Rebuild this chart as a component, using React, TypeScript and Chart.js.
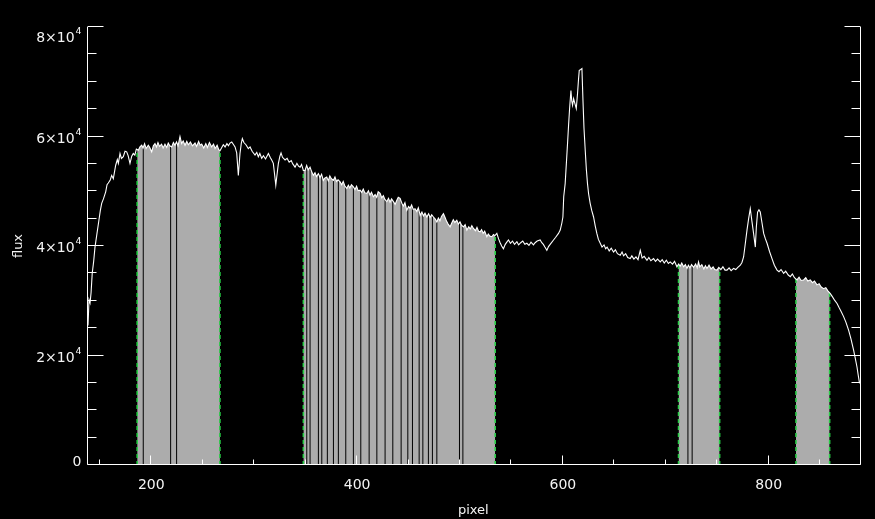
import React, { useEffect, useRef } from 'react';
import { Chart, registerables } from 'chart.js';

Chart.register(...registerables);

// ---------- data ----------
const PIXEL = [
  138.5, 139.5, 140.5, 141.5, 142.6, 144, 145.3, 147, 149.1, 150.5, 151.8, 153.5, 155.7, 157, 158.2, 160,
  161.5, 163.1, 165.4, 167, 168, 169.6, 171, 172.8, 174.5, 176.1, 177.5, 179.3, 181, 182.5, 184, 185.5,
  187.4, 189, 190.7, 192, 193.5, 195, 197.1, 198.5, 200.4, 202, 203.6, 205, 206.5, 208, 210, 211.5,
  213.3, 215, 216.5, 218, 219.8, 221.5, 223, 224.5, 226, 227.9, 229.5, 231, 232.8, 234.5, 236, 238,
  240, 242.5, 244, 246, 247.5, 249, 251, 253, 254.5, 256.5, 258.7, 260.5, 262, 264, 265.5, 266.8,
  268.5, 270, 271.7, 273.5, 275, 276.5, 278.2, 280, 281.4, 283, 284.6, 286.2, 287.5, 288.5, 290, 292,
  294.3, 296, 298, 300.8, 302.5, 304, 305.5, 307.3, 309, 311, 313.8, 315.5, 317, 318.6, 320, 321,
  322.3, 323.5, 325, 326.1, 327.5, 329, 330, 332, 334, 336, 337.5, 339.7, 341.5, 343, 344.6, 346,
  347.8, 349.4, 351, 352.5, 354.3, 356, 357.5, 359.1, 360.5, 362.4, 364, 365.5, 367.2, 368.5, 370.5, 372,
  373.5, 375, 377, 378.5, 380, 381.5, 383.5, 385, 386.5, 388, 390, 391.5, 393, 394.5, 396.4, 398,
  399.5, 401, 402.9, 404.5, 406, 407.5, 409.4, 411, 412.5, 414, 415.8, 417.5, 419, 420.5, 422.4, 424,
  425.5, 427, 428.9, 430.5, 432, 433.5, 435.3, 437, 438.5, 440, 441.8, 443.5, 445, 446.5, 448.3, 450,
  451.5, 453, 454.5, 456.4, 458, 459.5, 461.3, 463, 464.5, 466, 467.8, 469.5, 471, 472.5, 474.2, 476,
  477.5, 479, 480.5, 482, 483.9, 485.5, 487, 488.5, 490.4, 492, 493.5, 495, 496.9, 498.5, 500, 501.5,
  503.4, 505, 506.7, 508.5, 510, 511.5, 513.1, 515, 516.5, 518, 519.6, 521, 522.5, 524, 526.1, 527.5,
  529, 531, 532.5, 534, 535.8, 537.5, 539, 540.5, 542.2, 544, 545.5, 547.1, 549, 551, 553, 555.3,
  557, 559, 561, 563, 565, 567, 569, 571.4, 573, 575, 577.9, 579.5, 581, 582.5, 584.4, 586,
  588, 590.9, 593, 595.7, 597.4, 599, 600, 600.8, 602.2, 603.5, 604.5, 605.5, 606.4, 607.8, 608.6, 609.4,
  610.4, 611.7, 613, 614.2, 615.2, 615.9, 617, 618.5, 619.5, 620.5, 621.7, 622.8, 623.9, 625, 626.5, 628,
  629.8, 631.5, 633, 634.5, 636.3, 638, 640, 641.5, 643, 645, 647, 649.2, 651, 653, 655.7, 657.5,
  659, 661, 663, 665.4, 667, 669, 671, 673, 675.2, 677, 679, 681.7, 683.5, 685.5, 688.1, 690,
  692, 694.6, 696.5, 698.5, 700.5, 702.5, 704.3, 706.5, 708.5, 710.8, 712.5, 714, 715.5, 717.3, 719, 720.6,
  722, 723.5, 725, 727, 729, 730.5, 731.8, 733, 735, 737, 738.5, 740, 742, 744, 746, 747.5,
  749.7, 751.5, 753.5, 755.5, 757.5, 759.5, 761.5, 763.5, 765.9, 768, 770, 772.4, 774, 775.6, 777.3, 778.9,
  780.5, 782.1, 783.7, 785.3, 787, 788, 789.2, 790.5, 791.8, 793.5, 795.1, 796.8, 798.4, 800.8, 803.2, 805.5,
  808.1, 810, 812, 814.5, 816.5, 819, 821, 823, 825, 827.5, 829.5, 831.5, 833.9, 836, 838, 840.4,
  842.5, 844.5, 846.9, 849, 851, 853.4, 855.5, 857.5, 859.9, 862, 864, 866.4, 868.5, 870.5, 872.8, 875,
  877.7, 880, 882.5, 884, 885.8, 887, 888.3,
];

const FLUX = [
  25500, 30200, 29600, 31500, 35000, 37200, 39800, 42000, 44700, 46500, 47800, 48600, 49900, 51200, 51500, 52000,
  52900, 52300, 54750, 55800, 55100, 56900, 56000, 56300, 57300, 57200, 56500, 55100, 56400, 56900, 56600, 57700,
  57500, 58100, 58400, 57900, 58700, 57800, 58400, 58000, 57200, 58300, 58700, 58100, 58900, 58200, 58600, 57900,
  58600, 58000, 58800, 58300, 58100, 58900, 58400, 59000, 58300, 60000, 58700, 59200, 58400, 59100, 58500, 59000,
  58300, 58800, 58200, 59100, 58400, 58600, 57900, 58700, 58000, 58900, 58100, 58600, 57800, 58400, 57600, 57400,
  58000, 58500, 58100, 58700, 58300, 58800, 59000, 58500, 58100, 57000, 52900, 56900, 58800, 59600, 58900, 58500,
  57800, 58100, 57300, 56600, 57100, 56300, 56900, 56000, 56500, 55900, 56900, 56200, 55700, 55100, 52800, 51100,
  53200, 55100, 56400, 57000, 56200, 55900, 55700, 56000, 55300, 55600, 55000, 54400, 55100, 54600, 54400, 54900,
  53800, 53800, 54700, 53900, 54400, 53500, 52900, 53400, 52700, 53200, 52500, 53100, 52000, 52400, 52600, 51900,
  52800, 52300, 52000, 52600, 51800, 52100, 51700, 51200, 51800, 51000, 50500, 51100, 50600, 51200, 50800, 50300,
  50900, 50100, 50200, 49800, 50400, 49700, 49600, 50100, 49300, 49800, 49000, 49400, 48900, 49900, 49600, 48800,
  49200, 48500, 48100, 48700, 48000, 48600, 48100, 47600, 48300, 48900, 48700, 47800, 47300, 47900, 46500, 47200,
  46900, 47500, 46700, 46800, 46300, 47000, 45600, 46200, 45500, 46000, 45300, 45900, 45200, 45700, 45300, 44900,
  44400, 45100, 44600, 45400, 45900, 45200, 44500, 44000, 43500, 44200, 44800, 44300, 44700, 44000, 44400, 43800,
  43500, 43900, 42900, 43500, 43100, 43700, 43200, 42800, 43400, 42700, 42600, 43000, 42300, 42700, 41700, 42200,
  41800, 41700, 42100, 41900, 42300, 41300, 40600, 40000, 39500, 40300, 40700, 41100, 40500, 40900, 40300, 40800,
  40200, 40600, 40900, 40300, 40500, 40100, 40700, 40200, 40600, 40900, 41100, 40600, 40300, 39800, 39200, 39900,
  40400, 41100, 41600, 42300, 42900, 44200, 45300, 49000, 51400, 55500, 58700, 62000, 64800, 68400, 66500, 65700,
  66900, 66000, 65100, 67800, 70500, 72100, 72200, 72400, 66600, 61500, 57500, 54000, 51400, 49500, 47800, 46500,
  45300, 43600, 42300, 41200, 40500, 39800, 40200, 39500, 39800, 39100, 39600, 38900, 39300, 38600, 38300, 38900,
  38200, 38600, 37900, 37700, 38200, 37600, 38000, 37500, 39200, 37800, 38100, 37400, 37900, 37300, 37700, 37200,
  37600, 37100, 37500, 36900, 37400, 36800, 37100, 36700, 37200, 36200, 36700, 36300, 36900, 36200, 36600, 35900,
  36500, 36000, 36600, 36100, 36700, 36000, 37100, 36200, 36600, 35800, 36400, 35900, 36500, 35800, 36200, 35700,
  35600, 36100, 35700, 36200, 35600, 35600, 36000, 35500, 35900, 35700, 36100, 36500, 37000, 38000, 40500, 42900,
  45000, 46800, 44500, 42300, 39800, 43500, 46200, 46600, 46200, 44200, 42300, 41300, 40500, 39000, 37700, 36500,
  35600, 35300, 35700, 35000, 35400, 34700, 34400, 34900, 34200, 33800, 34300, 33700, 33800, 34200, 33600, 33800,
  33300, 33600, 32900, 33100, 32500, 32200, 32400, 31800, 31300, 30700, 30100, 29500, 28700, 28000, 27100, 26100,
  24600, 23000, 21000, 19600, 17900, 16400, 14900,
];

// fitted (shaded) pixel ranges
const REGION_START = [186.3, 347.8, 712.4, 826.5];
const REGION_END = [266.7, 534.2, 752.3, 859.2];

// masked pixels inside the shaded ranges (black gaps)
const MASKED = [
  192.2, 218.8, 224.6,
  351.1, 354.3, 362.4, 365.7, 371.1, 377.0, 381.8, 389.0, 396.4, 403.6, 411.7, 419.2, 427.2, 434.7,
  442.8, 449.3, 453.8, 460.3, 463.9, 469.3, 473.2, 477.5, 499.5, 502.8,
  721.5, 725.6,
];

const X_MIN = 138.5;
const X_MAX = 889.4;
const Y_MIN = 0;
const Y_MAX = 80000;
const X_MAJOR = [200, 400, 600, 800];
const X_TICK_LABELS = ['200', '400', '600', '800'];
const X_MINOR = [150, 250, 300, 350, 450, 500, 550, 650, 700, 750, 850];
const Y_MAJOR = [0, 20000, 40000, 60000, 80000];
const Y_TICK_BASE = ['0', '2×10', '4×10', '6×10', '8×10'];
const Y_TICK_EXP = ['', '4', '4', '4', '4'];
const Y_MINOR_STEP = 5000;
const X_TITLE = 'pixel';
const Y_TITLE = 'flux';

// ---------- helpers ----------
function fluxAt(x: number): number {
  if (x <= PIXEL[0]) return FLUX[0];
  for (let i = 1; i < PIXEL.length; i++) {
    if (x <= PIXEL[i]) {
      const t = (x - PIXEL[i - 1]) / (PIXEL[i] - PIXEL[i - 1]);
      return FLUX[i - 1] + t * (FLUX[i] - FLUX[i - 1]);
    }
  }
  return FLUX[FLUX.length - 1];
}

function verticals(xs: number[]) {
  const pts: { x: number; y: number | null }[] = [];
  xs.forEach((x) => {
    pts.push({ x, y: 0 });
    pts.push({ x, y: fluxAt(x) });
    pts.push({ x, y: null });
  });
  return pts;
}

const FONT = '"DejaVu Sans", "Liberation Sans", sans-serif';
const FG = '#f4f4f4';

const idlAxes = {
  id: 'idlAxes',
  afterDraw(chart: any) {
    const { ctx, chartArea: ca, scales } = chart;
    const xs = scales.x;
    const ys = scales.y;
    const L = Math.round(ca.left) - 0.5;
    const R = Math.round(ca.right) - 0.5;
    const B = Math.round(ca.bottom) - 0.5;
    const T = Math.round(ca.top);
    ctx.save();
    ctx.strokeStyle = '#ffffff';
    ctx.lineWidth = 1;
    ctx.beginPath();
    ctx.moveTo(L, T);
    ctx.lineTo(L, B);
    ctx.lineTo(R, B);
    ctx.lineTo(R, T);
    // y ticks (left and right, pointing inward)
    for (let v = Y_MIN; v <= Y_MAX; v += Y_MINOR_STEP) {
      const py = Math.round(ys.getPixelForValue(v)) - 0.5;
      const len = Y_MAJOR.includes(v) ? 16 : 9;
      ctx.moveTo(L, py);
      ctx.lineTo(L + len, py);
      ctx.moveTo(R, py);
      ctx.lineTo(R - len, py);
    }
    // x ticks (bottom, pointing up)
    X_MAJOR.forEach((v) => {
      const px = Math.round(xs.getPixelForValue(v)) - 0.5;
      ctx.moveTo(px, B);
      ctx.lineTo(px, B - 9);
    });
    X_MINOR.forEach((v) => {
      const px = Math.round(xs.getPixelForValue(v)) - 0.5;
      ctx.moveTo(px, B);
      ctx.lineTo(px, B - 5);
    });
    ctx.stroke();

    ctx.fillStyle = FG;
    ctx.textBaseline = 'alphabetic';
    // y labels
    const labelRight = ca.left - 6.5;
    Y_MAJOR.forEach((v, i) => {
      const py = ys.getPixelForValue(v);
      let base = py + 6.3;
      const exp = Y_TICK_EXP[i];
      ctx.font = `9.5px ${FONT}`;
      const ew = exp ? ctx.measureText(exp).width : 0;
      if (exp && base - 15 < ca.top) base = ca.top + 15;
      if (base > ca.bottom + 0.7) base = ca.bottom + 0.7;
      ctx.textAlign = 'right';
      if (exp) ctx.fillText(exp, labelRight, base - 8.3);
      ctx.font = `14px ${FONT}`;
      ctx.fillText(Y_TICK_BASE[i], labelRight - ew - (exp ? 0.8 : 0), base);
    });
    // x labels
    ctx.font = `14px ${FONT}`;
    ctx.textAlign = 'center';
    X_MAJOR.forEach((v, i) => {
      ctx.fillText(X_TICK_LABELS[i], xs.getPixelForValue(v), ca.bottom + 24.3);
    });
    // titles
    ctx.font = `13px ${FONT}`;
    ctx.fillText(X_TITLE, (ca.left + ca.right) / 2 - 1, ca.bottom + 49);
    ctx.translate(22, (ca.top + ca.bottom) / 2);
    ctx.rotate(-Math.PI / 2);
    ctx.fillText(Y_TITLE, 0, 0);
    ctx.restore();
  },
};

export default function App() {
  const ref = useRef<HTMLCanvasElement>(null);
  useEffect(() => {
    const regionSets = REGION_START.map((a, i) => {
      const b = REGION_END[i];
      const pts: { x: number; y: number }[] = [{ x: a, y: fluxAt(a) }];
      PIXEL.forEach((p, j) => {
        if (p > a && p < b) pts.push({ x: p, y: FLUX[j] });
      });
      pts.push({ x: b, y: fluxAt(b) });
      return {
        type: 'line' as const,
        data: pts,
        borderWidth: 0,
        borderColor: 'rgba(0,0,0,0)',
        backgroundColor: '#acacac',
        fill: 'origin',
        pointRadius: 0,
        tension: 0,
        order: 4,
      };
    });
    const edges: number[] = [];
    REGION_START.forEach((a, i) => {
      edges.push(a, REGION_END[i]);
    });
    edges.sort((p, q) => p - q);

    const chart = new Chart(ref.current as HTMLCanvasElement, {
      type: 'line',
      data: {
        datasets: [
          {
            data: PIXEL.map((x, i) => ({ x, y: FLUX[i] })),
            borderColor: '#ffffff',
            borderWidth: 1.1,
            pointRadius: 0,
            fill: false,
            tension: 0,
            order: 0,
          },
          {
            data: verticals(edges),
            borderColor: 'rgb(40,205,70)',
            borderWidth: 1.6,
            borderDash: [4, 3],
            pointRadius: 0,
            fill: false,
            spanGaps: false,
            order: 1,
          },
          {
            data: verticals(MASKED),
            borderColor: '#000000',
            borderWidth: 1,
            pointRadius: 0,
            fill: false,
            spanGaps: false,
            order: 2,
          },
          ...regionSets,
        ] as any,
      },
      options: {
        responsive: false,
        maintainAspectRatio: false,
        devicePixelRatio: 1,
        animation: false,
        parsing: true,
        layout: { padding: { left: 88, top: 27, right: 14.3, bottom: 54 } },
        scales: {
          x: { type: 'linear', min: X_MIN, max: X_MAX, display: false },
          y: { type: 'linear', min: Y_MIN, max: Y_MAX, display: false },
        },
        plugins: {
          legend: { display: false },
          tooltip: { enabled: false },
        },
        events: [],
      } as any,
      plugins: [idlAxes],
    });
    return () => chart.destroy();
  }, []);
  return (
    <div style={{ position: 'fixed', left: 0, top: 0, width: 875, height: 519, background: '#000' }}>
      <canvas ref={ref} width={875} height={519} style={{ display: 'block' }} />
    </div>
  );
}
